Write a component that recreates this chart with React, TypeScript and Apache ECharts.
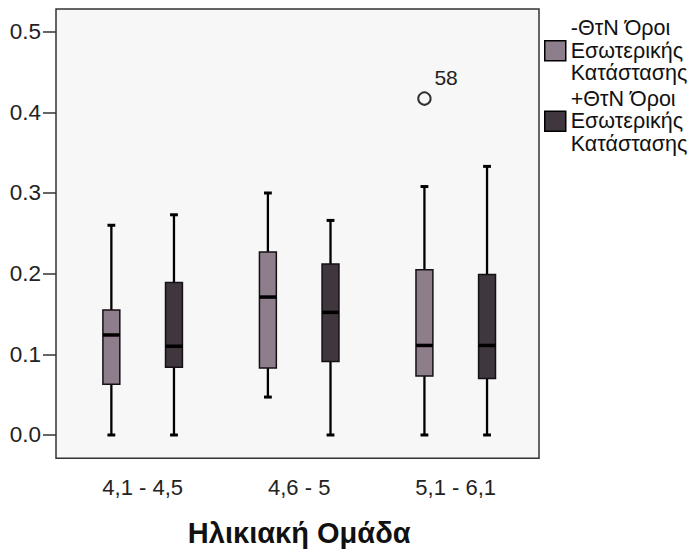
import React, { useEffect, useRef } from 'react';
import * as echarts from 'echarts';

// Age-group categories
const categories = ['4,1 - 4,5', '4,6 - 5', '5,1 - 6,1'];
const seriesNames = ['-ΘτΝ Όροι Εσωτερικής Κατάστασης', '+ΘτΝ Όροι Εσωτερικής Κατάστασης'];
const xAxisTitle = 'Ηλικιακή Ομάδα';

// [min, Q1, median, Q3, max] per category
const negBoxes = [
  [0.0, 0.063, 0.124, 0.155, 0.26],
  [0.047, 0.083, 0.171, 0.227, 0.3],
  [0.0, 0.073, 0.111, 0.205, 0.308],
];
const posBoxes = [
  [0.0, 0.084, 0.11, 0.189, 0.273],
  [0.0, 0.091, 0.152, 0.212, 0.266],
  [0.0, 0.07, 0.111, 0.199, 0.333],
];

// outliers of the "-" group: [category index, value]
const negOutliers = [[2, 0.417]];
const negOutlierLabels = ['58'];

const yTickValues = [0, 0.1, 0.2, 0.3, 0.4, 0.5];
const yMin = -0.0289;
const yMax = 0.5281;

const lightFill = '#8e7e8b';
const darkFill = '#3f363e';
const FONT = '"Liberation Sans", Arial, sans-serif';

function makeBoxRender(offsetFrac: number, fill: string) {
  return (params: any, api: any) => {
    const cat = api.value(0);
    const band = api.size([1, 0])[0];
    const cx = api.coord([cat, 0])[0] + band * offsetFrac;
    const py = (i: number) => api.coord([cat, api.value(i)])[1];
    const yLo = py(1);
    const yQ1 = py(2);
    const yMed = py(3);
    const yQ3 = py(4);
    const yHi = py(5);
    const bw = band * 0.108;
    const cap = band * 0.05;
    const wStyle = { stroke: '#000', lineWidth: 2.3 };
    const cStyle = { stroke: '#000', lineWidth: 3 };
    return {
      type: 'group',
      children: [
        { type: 'line', shape: { x1: cx, y1: yHi, x2: cx, y2: yQ3 }, style: wStyle },
        { type: 'line', shape: { x1: cx, y1: yQ1, x2: cx, y2: yLo }, style: wStyle },
        { type: 'line', shape: { x1: cx - cap / 2, y1: yHi, x2: cx + cap / 2, y2: yHi }, style: cStyle },
        { type: 'line', shape: { x1: cx - cap / 2, y1: yLo, x2: cx + cap / 2, y2: yLo }, style: cStyle },
        {
          type: 'rect',
          shape: { x: cx - bw / 2, y: yQ3, width: bw, height: yQ1 - yQ3 },
          style: { fill, stroke: '#141014', lineWidth: 1.5 },
        },
        {
          type: 'line',
          shape: { x1: cx - bw / 2, y1: yMed, x2: cx + bw / 2, y2: yMed },
          style: { stroke: '#000', lineWidth: 3.5 },
        },
      ],
    };
  };
}

function makeOutlierRender(offsetFrac: number, labels: string[]) {
  return (params: any, api: any) => {
    const cat = api.value(0);
    const band = api.size([1, 0])[0];
    const p = api.coord([cat, api.value(1)]);
    const cx = p[0] + band * offsetFrac;
    const cy = p[1];
    return {
      type: 'group',
      children: [
        {
          type: 'circle',
          shape: { cx, cy, r: 6.2 },
          style: { fill: 'none', stroke: '#333', lineWidth: 2 },
        },
        {
          type: 'text',
          x: cx + 10,
          y: cy - 21,
          style: {
            text: labels[params.dataIndex],
            fontSize: 21,
            fontFamily: FONT,
            fill: '#222',
            align: 'left',
            verticalAlign: 'middle',
          },
        },
      ],
    };
  };
}

export default function App() {
  const ref = useRef<HTMLDivElement>(null);

  useEffect(() => {
    if (!ref.current) return;
    const chart = echarts.init(ref.current, undefined, { renderer: 'svg' });
    const option: any = {
      animation: false,
      backgroundColor: '#ffffff',
      textStyle: { fontFamily: FONT },
      grid: [
        { left: 64.4, right: 158, top: 9, bottom: 95.7 },
        {
          left: 56,
          top: 9,
          width: 483,
          height: 449.3,
          show: true,
          backgroundColor: '#f7f7f7',
          borderColor: '#333',
          borderWidth: 1.5,
        },
      ],
      legend: {
        data: seriesNames,
        orient: 'vertical',
        left: 539,
        top: 12,
        itemWidth: 21,
        itemHeight: 20,
        itemGap: 3,
        icon: 'rect',
        itemStyle: { borderColor: '#000', borderWidth: 1.5 },
        formatter: (name: string) => {
          const parts = name.split(' ');
          return parts[0] + ' ' + parts[1] + '\n' + parts[2] + '\n' + parts[3];
        },
        textStyle: { fontSize: 21.5, lineHeight: 22.5, color: '#111', fontFamily: FONT },
      },
      xAxis: [
        {
          type: 'category',
          gridIndex: 0,
          data: categories,
          boundaryGap: true,
          axisLine: { show: false },
          axisTick: { alignWithLabel: true, length: 14, lineStyle: { color: '#333', width: 1.5 } },
          axisLabel: { fontSize: 22, color: '#222', margin: 18, fontFamily: FONT },
          name: xAxisTitle,
          nameLocation: 'middle',
          nameGap: 60,
          nameTextStyle: { fontSize: 29, fontWeight: 'bold', color: '#111', fontFamily: FONT },
          splitLine: { show: false },
        },
        { type: 'value', gridIndex: 1, show: false, min: 0, max: 1 },
      ],
      yAxis: [
        {
          type: 'value',
          gridIndex: 0,
          min: yMin,
          max: yMax,
          offset: 8.4,
          axisLine: { show: false },
          axisTick: {
            show: true,
            length: 13,
            lineStyle: { color: '#333', width: 1.5 },
            customValues: yTickValues,
          },
          axisLabel: {
            fontSize: 22.5,
            color: '#222',
            margin: 15,
            fontFamily: FONT,
            customValues: yTickValues,
            formatter: (v: number) => v.toFixed(1),
          },
          splitLine: { show: false },
        },
        { type: 'value', gridIndex: 1, show: false, min: 0, max: 1 },
      ],
      series: [
        {
          name: seriesNames[0],
          type: 'custom',
          xAxisIndex: 0,
          yAxisIndex: 0,
          itemStyle: { color: lightFill },
          renderItem: makeBoxRender(-0.2, lightFill),
          encode: { x: 0, y: [1, 2, 3, 4, 5] },
          data: negBoxes.map((b, i) => [i, ...b]),
          z: 3,
        },
        {
          name: seriesNames[1],
          type: 'custom',
          xAxisIndex: 0,
          yAxisIndex: 0,
          itemStyle: { color: darkFill },
          renderItem: makeBoxRender(0.2, darkFill),
          encode: { x: 0, y: [1, 2, 3, 4, 5] },
          data: posBoxes.map((b, i) => [i, ...b]),
          z: 3,
        },
        {
          name: 'outliers',
          type: 'custom',
          xAxisIndex: 0,
          yAxisIndex: 0,
          renderItem: makeOutlierRender(-0.2, negOutlierLabels),
          encode: { x: 0, y: 1 },
          data: negOutliers,
          z: 3,
        },
      ],
    };
    chart.setOption(option);
    return () => chart.dispose();
  }, []);

  return (
    <div
      ref={ref}
      style={{ position: 'absolute', left: 0, top: 0, width: 692, height: 554 }}
    />
  );
}
